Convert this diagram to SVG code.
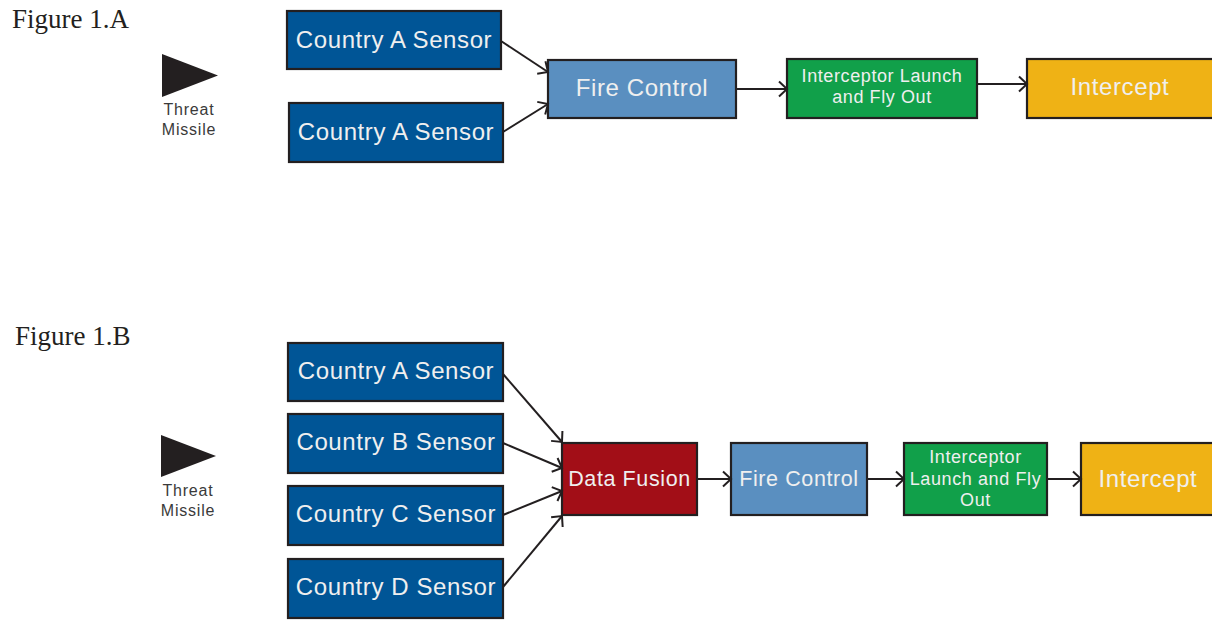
<svg xmlns="http://www.w3.org/2000/svg" width="1212" height="621" viewBox="0 0 1212 621">
<style>
.box{stroke:#231F20;stroke-width:2.2}
.sensor{fill:#005596}
.fc{fill:#5A8FC0}
.df{fill:#A20E17}
.il{fill:#11A04A}
.ic{fill:#EFB215}
.t{font-family:"Liberation Sans",Arial,sans-serif;fill:#EFEFEF;text-anchor:middle;letter-spacing:0.6px}
.big{font-size:24px}
.mid{font-size:21.5px}
.sm{font-size:18px}
.lbl{font-family:"Liberation Sans",Arial,sans-serif;font-size:16px;fill:#3A3A3A;text-anchor:middle;letter-spacing:0.8px}
.fig{font-family:"Liberation Serif","Times New Roman",serif;font-size:27px;fill:#231F20}
.conn line{stroke:#231F20;stroke-width:2;marker-end:url(#arr)}
</style>
<defs>
<marker id="arr" markerUnits="userSpaceOnUse" markerWidth="14" markerHeight="18" viewBox="0 0 14 18" refX="12" refY="9" orient="auto">
<path d="M4,1.5 L12,9 L4,16.5" fill="none" stroke="#231F20" stroke-width="2"/>
</marker>
</defs>
<rect width="1212" height="621" fill="#FFFFFF"/>

<!-- Figure 1.A -->
<text class="fig" x="12" y="28">Figure 1.A</text>
<g id="threatA">
<polygon points="162,54 218,75.5 162,97" fill="#231F20"/>
<text class="lbl" x="189" y="115">Threat</text>
<text class="lbl" x="189" y="135">Missile</text>
</g>
<g id="a_sensor1"><rect class="box sensor" x="287" y="11" width="214" height="58"/><text class="t big" x="394" y="48">Country A Sensor</text></g>
<g id="a_sensor2"><rect class="box sensor" x="289" y="103" width="214" height="59"/><text class="t big" x="396" y="140">Country A Sensor</text></g>
<g id="a_fire"><rect class="box fc" x="548" y="60" width="188" height="58"/><text class="t big" x="642" y="96">Fire Control</text></g>
<g id="a_launch"><rect class="box il" x="787" y="59" width="190" height="59"/><text class="t sm" x="882" y="82">Interceptor Launch</text><text class="t sm" x="882" y="103">and Fly Out</text></g>
<g id="a_intercept"><rect class="box ic" x="1027" y="59" width="190" height="59"/><text class="t big" x="1120" y="95">Intercept</text></g>

<!-- Figure 1.B -->
<text class="fig" x="15" y="345">Figure 1.B</text>
<g id="threatB">
<polygon points="161,435 216,456 161,477" fill="#231F20"/>
<text class="lbl" x="188" y="496">Threat</text>
<text class="lbl" x="188" y="516">Missile</text>
</g>
<g id="b_sensorA"><rect class="box sensor" x="288" y="343" width="215" height="58"/><text class="t big" x="396" y="379">Country A Sensor</text></g>
<g id="b_sensorB"><rect class="box sensor" x="288" y="414" width="215" height="59"/><text class="t big" x="396" y="450">Country B Sensor</text></g>
<g id="b_sensorC"><rect class="box sensor" x="288" y="486" width="215" height="59"/><text class="t big" x="396" y="522">Country C Sensor</text></g>
<g id="b_sensorD"><rect class="box sensor" x="288" y="559" width="215" height="59"/><text class="t big" x="396" y="595">Country D Sensor</text></g>
<g id="b_fusion"><rect class="box df" x="562" y="443" width="135" height="72"/><text class="t mid" x="629.5" y="486">Data Fusion</text></g>
<g id="b_fire"><rect class="box fc" x="731" y="443" width="136" height="72"/><text class="t mid" x="799" y="486">Fire Control</text></g>
<g id="b_launch"><rect class="box il" x="904" y="443" width="143" height="72"/><text class="t sm" x="975.5" y="463">Interceptor</text><text class="t sm" x="975.5" y="485">Launch and Fly</text><text class="t sm" x="975.5" y="506">Out</text></g>
<g id="b_intercept"><rect class="box ic" x="1081" y="443" width="135" height="72"/><text class="t big" x="1148" y="487">Intercept</text></g>

<g id="connectors" class="conn">
<line x1="501" y1="41" x2="548" y2="72"/>
<line x1="503" y1="132" x2="548" y2="104"/>
<line x1="736" y1="89" x2="787" y2="89"/>
<line x1="977" y1="84" x2="1027" y2="84"/>
<line x1="503" y1="374" x2="562" y2="442"/>
<line x1="503" y1="443" x2="562" y2="468"/>
<line x1="503" y1="515" x2="562" y2="491"/>
<line x1="503" y1="587" x2="562" y2="516"/>
<line x1="697" y1="479" x2="731" y2="479"/>
<line x1="867" y1="479" x2="904" y2="479"/>
<line x1="1047" y1="479" x2="1081" y2="479"/>
</g>
</svg>
